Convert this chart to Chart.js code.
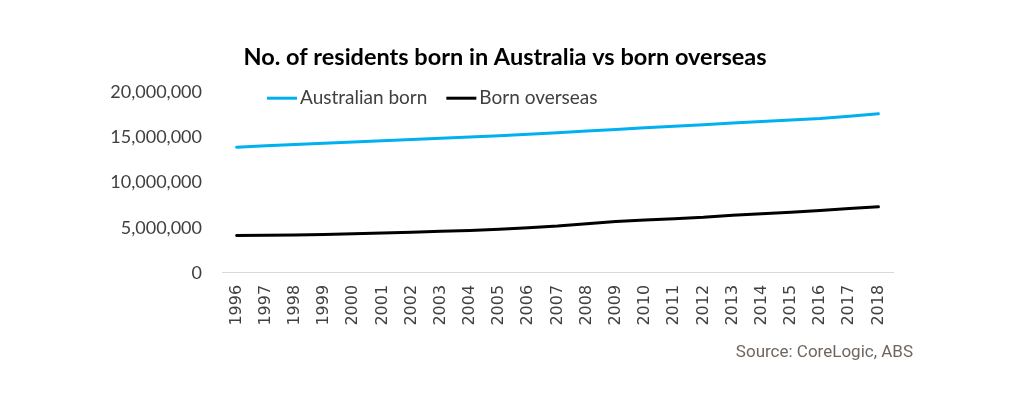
<!DOCTYPE html>
<html>
<head>
<meta charset="utf-8">
<script src="https://cdn.jsdelivr.net/npm/chart.js@4.4.0/dist/chart.umd.min.js"></script>
<style>
  html, body { margin: 0; padding: 0; background: #fff; }
  #wrap { width: 1017px; height: 399px; }
</style>
</head>
<body>
<div id="wrap"><canvas id="popChart" width="1017" height="399"></canvas></div>
<script>
// --- Data ---
const years = ['1996', '1997', '1998', '1999', '2000', '2001', '2002', '2003', '2004', '2005', '2006', '2007',
               '2008', '2009', '2010', '2011', '2012', '2013', '2014', '2015', '2016', '2017', '2018'];
const australianBorn = [13920000, 14060000, 14200000, 14340000, 14480000, 14620000, 14760000, 14900000,
                        15040000, 15190000, 15350000, 15520000, 15700000, 15880000, 16060000, 16220000,
                        16400000, 16580000, 16760000, 16930000, 17100000, 17350000, 17620000];
const bornOverseas = [4140000, 4170000, 4200000, 4250000, 4330000, 4420000, 4500000, 4600000,
                      4700000, 4830000, 5000000, 5180000, 5450000, 5700000, 5850000, 6000000,
                      6150000, 6380000, 6550000, 6720000, 6900000, 7120000, 7320000];
const seriesNames = ['Australian born', 'Born overseas'];
const yMin = 0, yMax = 20000000, yStep = 5000000;

// --- Legend drawn inside the plot, like the Excel original ---
const inlineLegend = {
    id: 'inlineLegend',
    afterDraw(chart, args, opts) {
        const ctx = chart.ctx;
        const area = chart.chartArea;
        let x = area.left + opts.offsetX;
        const y = area.top + opts.offsetY;
        ctx.save();
        ctx.font = opts.font;
        ctx.textBaseline = 'middle';
        ctx.textAlign = 'left';
        chart.data.datasets.forEach(ds => {
            ctx.strokeStyle = ds.borderColor;
            ctx.lineWidth = ds.borderWidth;
            ctx.beginPath();
            ctx.moveTo(x, y);
            ctx.lineTo(x + opts.lineLength, y);
            ctx.stroke();
            x += opts.lineLength + opts.textGap;
            ctx.fillStyle = opts.color;
            ctx.fillText(ds.label, x, y);
            x += ctx.measureText(ds.label).width + opts.itemGap;
        });
        ctx.restore();
    }
};

const ctx = document.getElementById('popChart').getContext('2d');
new Chart(ctx, {
    type: 'line',
    data: {
        labels: years,
        datasets: [
            { label: seriesNames[0], data: australianBorn, borderColor: '#00b0f0', borderWidth: 3,
              pointRadius: 0, tension: 0, borderCapStyle: 'round', yAxisID: 'y' },
            { label: seriesNames[1], data: bornOverseas, borderColor: '#000000', borderWidth: 3,
              pointRadius: 0, tension: 0, borderCapStyle: 'round', yAxisID: 'y' }
        ]
    },
    options: {
        responsive: false,
        animation: false,
        devicePixelRatio: 1,
        layout: { padding: { left: 97, right: 104, top: 43, bottom: 36 } },
        plugins: {
            legend: { display: false },
            tooltip: { enabled: false },
            title: {
                display: true,
                text: 'No. of residents born in Australia vs born overseas',
                color: '#000000',
                font: { family: 'Lato', size: 23.5, weight: 'bold', lineHeight: 1.2 },
                padding: { top: 0, bottom: 21 }
            },
            subtitle: {
                display: true,
                position: 'bottom',
                align: 'end',
                text: 'Source: CoreLogic, ABS',
                color: '#6f6660',
                font: { family: 'Roboto', size: 17, lineHeight: 1.2 },
                padding: { top: 5, bottom: 0 }
            },
            inlineLegend: {
                offsetX: 45, offsetY: 6, lineLength: 30, textGap: 3, itemGap: 19,
                font: '19px Lato', color: '#404040'
            }
        },
        scales: {
            x: {
                type: 'category',
                offset: true,
                grid: { display: false, drawTicks: false },
                border: { display: true, color: '#d9d9d9', width: 1 },
                ticks: {
                    autoSkip: false, minRotation: 90, maxRotation: 90, padding: 12,
                    color: '#404040', font: { family: 'DejaVu Sans', size: 16 }
                }
            },
            y: {
                min: yMin, max: yMax,
                grid: { display: false, drawTicks: false },
                border: { display: false },
                ticks: {
                    stepSize: yStep, padding: 20, color: '#404040',
                    font: { family: 'Lato', size: 18 },
                    callback: v => v.toLocaleString('en-US')
                },
                afterFit: s => { s.width = 125; }
            },
            // empty right-hand spacer so the plot stops short of the source note
            spacer: {
                position: 'right',
                grid: { display: false, drawTicks: false },
                border: { display: false },
                ticks: { display: false },
                afterFit: s => { s.width = 20; }
            }
        }
    },
    plugins: [inlineLegend]
});
</script>
</body>
</html>
